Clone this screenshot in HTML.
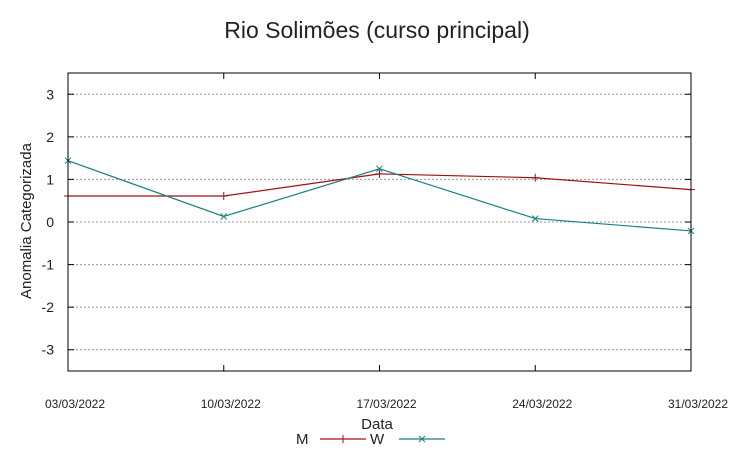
<!DOCTYPE html>
<html><head><meta charset="utf-8"><style>
body{margin:0;background:#fff;font-family:"Liberation Sans",sans-serif}
svg{display:block}
</style></head><body>
<svg id="c" width="753" height="459" xmlns="http://www.w3.org/2000/svg" font-family="Liberation Sans, sans-serif">
<text x="377" y="38" font-size="23" text-anchor="middle" fill="#222">Rio Solimões (curso principal)</text>
<text transform="translate(31,221) rotate(-90)" font-size="15" text-anchor="middle" fill="#222">Anomalia Categorizada</text>
<text x="377" y="429" font-size="15" text-anchor="middle" fill="#222">Data</text>
<g id="grid"></g><g id="series"></g>
<rect x="68" y="73" width="623" height="298" fill="none" stroke="#000" stroke-width="1"/>
<g>
<text x="296" y="444" font-size="15" fill="#222">M</text>
<line x1="320" y1="439" x2="366" y2="439" stroke="#a01010" stroke-width="1.2"/>
<path d="M343 435V443M339 439H347" stroke="#a01010"/>
<text x="370" y="444" font-size="15" fill="#222">W</text>
<line x1="399" y1="439" x2="445" y2="439" stroke="#1a8080" stroke-width="1.2"/>
<path d="M419 436L425 442M419 442L425 436" stroke="#1a8080"/>
</g>
</svg>
<script>
const dates=["03/03/2022","10/03/2022","17/03/2022","24/03/2022","31/03/2022"];
const seriesM=[0.61,0.61,1.13,1.04,0.76];
const seriesW=[1.44,0.13,1.25,0.08,-0.21];
const yTicks=[-3,-2,-1,0,1,2,3];
const NS="http://www.w3.org/2000/svg";
const L=68,R=691,T=73,B=371,yMin=-3.5,yMax=3.5;
const xs=i=>L+(R-L)*i/(dates.length-1);
const ys=v=>B-(v-yMin)/(yMax-yMin)*(B-T);
function mk(tag,attrs,parent){const e=document.createElementNS(NS,tag);for(const k in attrs)e.setAttribute(k,attrs[k]);parent.appendChild(e);return e;}
const g=document.getElementById('grid');
yTicks.forEach(t=>{
 const y=ys(t);
 const gl=mk('line',{x1:L,x2:R,y1:y,y2:y,stroke:'#999','stroke-dasharray':'2,2'},g);
 
 
 const tk=mk('path',{d:`M${L} ${y}h6M${R} ${y}h-6`,stroke:'#000'},g);
 
 
 const tx=mk('text',{x:L-14,y:y+5,'font-size':14,'text-anchor':'end',fill:'#222'},g);
 tx.textContent=t;
 
 
});
dates.forEach((d,i)=>{
 const x=xs(i);
 const tk=mk('path',{d:`M${x} ${B}v-6M${x} ${T}v6`,stroke:'#000'},g);
 
 
 const tx=mk('text',{x:x+7,y:408,'font-size':12,'text-anchor':'middle',fill:'#222'},g);
 tx.textContent=d;
 
 
});
const s=document.getElementById('series');
function draw(vals,color,name,marker){
 const p=mk('polyline',{points:vals.map((v,i)=>xs(i)+','+ys(v)).join(' '),fill:'none',stroke:color,'stroke-width':1.2},s);
 
 
 vals.forEach((v,i)=>{
  const x=xs(i),y=ys(v);
  const d=marker==='+'?`M${x} ${y-4}V${y+4}M${x-4} ${y}H${x+4}`:`M${x-3} ${y-3}L${x+3} ${y+3}M${x-3} ${y+3}L${x+3} ${y-3}`;
  const m=mk('path',{d:d,stroke:color},s);
  
  
 });
}
draw(seriesM,'#a01010','m','+');
draw(seriesW,'#1a8080','w','x');
</script>
</body></html>
